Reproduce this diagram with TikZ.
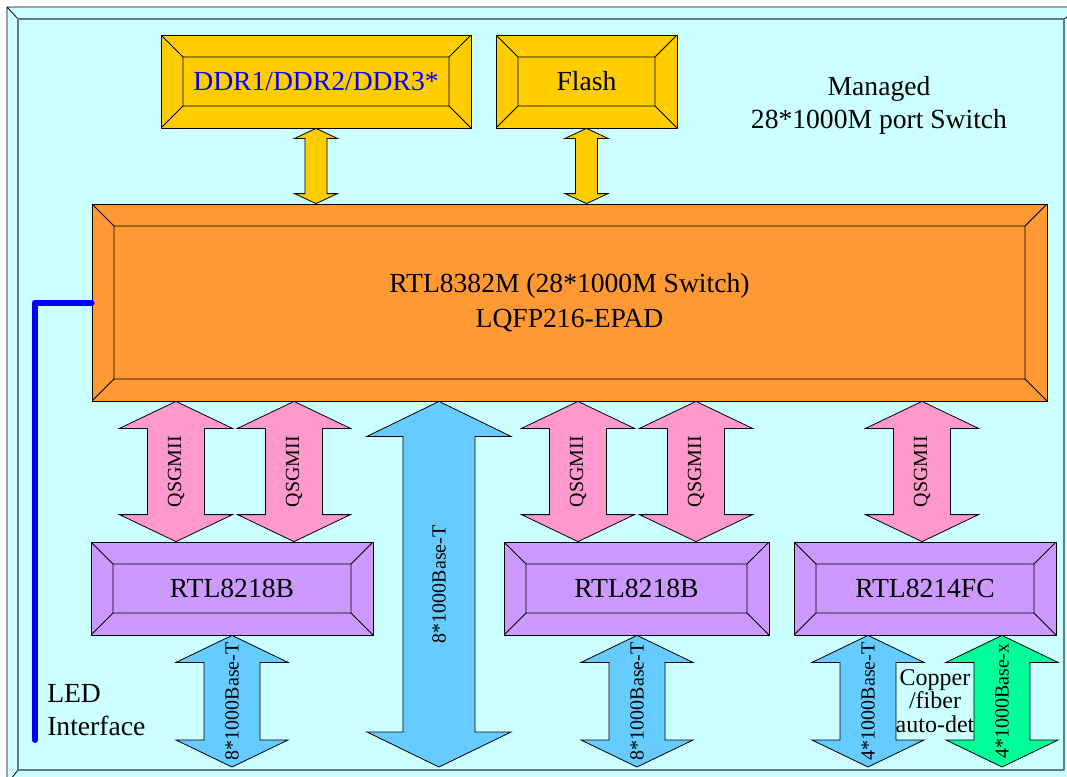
\documentclass[tikz,border=0pt]{standalone}
\usepackage{fontspec}
\setmainfont{Liberation Serif}
\usetikzlibrary{calc}
\definecolor{bgcyan}{HTML}{CCFFFF}
\definecolor{framegray}{HTML}{5F7F7F}
\definecolor{memgold}{HTML}{FFCC00}
\definecolor{sworange}{HTML}{FF9933}
\definecolor{phyviolet}{HTML}{CC99FF}
\definecolor{qpink}{HTML}{FF99CC}
\definecolor{cublue}{HTML}{66CCFF}
\definecolor{fbgreen}{HTML}{00FF99}
\newcommand\bvl{16.5pt}
% vertical block arrow: fill, top tip, bottom tip, half shaft, half head, head length
\newcommand\blkarrow[6]{%
  \path[draw, fill=#1, line width=.6pt, line join=miter] let \p1=(#2), \p2=(#3) in
    (\x1,\y1) -- (\x1+#5,\y1-#6) -- (\x1+#4,\y1-#6) -- (\x1+#4,\y2+#6) -- (\x1+#5,\y2+#6)
    -- (\x1,\y2) -- (\x1-#5,\y2+#6) -- (\x1-#4,\y2+#6) -- (\x1-#4,\y1-#6) -- (\x1-#5,\y1-#6) -- cycle;}
\tikzset{
  bevelbox/.style={draw, fill=#1, line width=.6pt, inner sep=0pt, minimum height=69.75pt,
    font=\fontsize{20.7}{26}\selectfont, align=center,
    path picture={
      \draw[line width=.6pt]
        ([shift={(\bvl,-\bvl)}]path picture bounding box.north west) rectangle
        ([shift={(-\bvl,\bvl)}]path picture bounding box.south east)
        (path picture bounding box.north west) -- ++(\bvl,-\bvl)
        (path picture bounding box.north east) -- ++(-\bvl,-\bvl)
        (path picture bounding box.south west) -- ++(\bvl,\bvl)
        (path picture bounding box.south east) -- ++(-\bvl,\bvl);}},
  arrowtext/.style={rotate=90, inner sep=0pt, font=\fontsize{15}{16}\selectfont},
  plaintext/.style={font=\fontsize{20.7}{25}\selectfont, align=center, inner sep=0pt},
}
\begin{document}
\begin{tikzpicture}[x=0.75pt,y=-0.75pt,line join=round]
	\useasboundingbox (0,0) rectangle (1067,776);
	\clip (0,0) rectangle (1067,776);
	% outer frame
	\fill[bgcyan] (7,7) rectangle (1082,784);
	\draw[line width=.6pt] (7,7) rectangle (1082,784)
	(7,7)--(18,19) (7,784)--(18,770) (1082,7)--(1064,19);
	\draw[framegray,line width=1pt] (18,19) rectangle (1064,770);
	\path
	(176,0) coordinate (q1)
	(294,0) coordinate (q2)
	(578,0) coordinate (q3)
	(696,0) coordinate (q4)
	(922,0) coordinate (q5)
	(232,0) coordinate (b1)
	(637,0) coordinate (b2)
	(868,0) coordinate (b3)
	(1002,0) coordinate (b4)
	(439,767) coordinate (c0)
	(35,740) coordinate (ledend)
	;
	\node[bevelbox=memgold, minimum width=232.5pt, text=blue] (ddr) at (316,81.5) {DDR1/DDR2/DDR3*};
	\node[bevelbox=memgold, minimum width=135.75pt] (flash) at (586.5,81.5) {Flash};
	\node[bevelbox=sworange, minimum width=716.25pt, minimum height=147.75pt] (main) at (569.5,302.5)
	{RTL8382M (28*1000M Switch)\\LQFP216-EPAD};
	\node[bevelbox=phyviolet, minimum width=211.5pt] (phyA) at (232,588.5) {RTL8218B};
	\node[bevelbox=phyviolet, minimum width=198.75pt] (phyB) at (636.5,588.5) {RTL8218B};
	\node[bevelbox=phyviolet, minimum width=196.5pt] (phyC) at (925,588.5) {RTL8214FC};
	\node[plaintext] (title) at (879,105.5) {Managed\\28*1000M port Switch};
	\node[plaintext, anchor=west, align=left] (led) at (47,710) {LED\\Interface};
	% LED line
	\draw[blue, line width=4.5pt, line cap=round] (main.west) -| (ledend);
	% memory buses
	\blkarrow{memgold}{ddr.south}{ddr.south |- main.north}{8.25pt}{16.1pt}{7.5pt}
	\blkarrow{memgold}{flash.south}{flash.south |- main.north}{8.25pt}{16.1pt}{7.5pt}
	% QSGMII links
	\foreach \c/\b in {q1/phyA,q2/phyA,q3/phyB,q4/phyB,q5/phyC}{
	\blkarrow{qpink}{\c |- main.south}{\c |- \b.north}{21.4pt}{42.4pt}{20.25pt}
	\node[arrowtext] (l\c) at ($(\c |- main.south)!.5!(\c |- \b.north)$) {QSGMII};
	}
	% ports
	\blkarrow{cublue}{c0 |- main.south}{c0}{27pt}{54pt}{26.25pt}
	\node[arrowtext] (lc0) at ($(c0 |- main.south)!.5!(c0)$) {8*1000Base-T};
	\foreach \c/\b/\f/\t in {b1/phyA/cublue/8*1000Base-T,b2/phyB/cublue/8*1000Base-T,
	b3/phyC/cublue/4*1000Base-T,b4/phyC/fbgreen/4*1000Base-x}{
	\blkarrow{\f}{\c |- \b.south}{\c |- c0}{21pt}{42pt}{20.25pt}
	\node[arrowtext] (l\c) at ($(\c |- \b.south)!.5!(\c |- c0)$) {\t};
	}
	\node[font=\fontsize{18}{17.5}\selectfont, align=center, inner sep=0pt] (combo) at (935,701)
	{Copper\\/fiber\\auto-det};
\end{tikzpicture}
\end{document}
